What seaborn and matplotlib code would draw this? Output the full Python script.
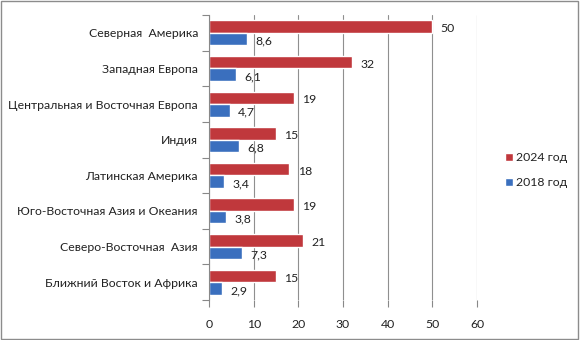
import matplotlib
matplotlib.use("Agg")
import matplotlib.pyplot as plt
from matplotlib.patches import Rectangle
from matplotlib.ticker import FixedLocator
import seaborn as sns
import pandas as pd
import numpy as np

regions = [
    "Северная  Америка",
    "Западная Европа",
    "Центральная и Восточная Европа",
    "Индия",
    "Латинская Америка",
    "Юго-Восточная Азия и Океания",
    "Северо-Восточная  Азия",
    "Ближний Восток и Африка",
]
values_2024 = [50, 32, 19, 15, 18, 19, 21, 15]
values_2018 = [8.6, 6.1, 4.7, 6.8, 3.4, 3.8, 7.3, 2.9]
series_names = ["2024 год", "2018 год"]
x_ticks = [0, 10, 20, 30, 40, 50, 60]

df = pd.DataFrame({
    "region": regions * 2,
    "value": values_2024 + values_2018,
    "series": [series_names[0]] * len(regions) + [series_names[1]] * len(regions),
})

sns.set_theme(style="white")
plt.rcParams["font.family"] = ["Lato", "DejaVu Sans"]
FS = 8.8

fig = plt.figure(figsize=(5.8, 3.4), dpi=100)
ax = fig.add_axes([209 / 580, 1 - 300 / 340, (477 - 209) / 580, (300 - 15) / 340])

palette = {series_names[0]: "#C0383C", series_names[1]: "#3A6FBE"}
sns.barplot(data=df, y="region", x="value", hue="series", hue_order=series_names,
            order=regions, orient="h", palette=palette, width=0.7,
            saturation=1, ax=ax, legend=True)

for container in ax.containers:
    for bar in container:
        w = bar.get_width()
        txt = f"{w:g}".replace(".", ",")
        ax.annotate(txt, (w, bar.get_y() + bar.get_height() / 2),
                    xytext=(6, -1.5), textcoords="offset points",
                    ha="left", va="center", fontsize=FS, color="#222222")

ax.set_xlim(0, 60)
ax.set_ylim(len(regions) - 0.5, -0.5)
ax.set_xticks(x_ticks)
ax.set_xticklabels([str(t) for t in x_ticks], fontsize=FS, color="#222222")
ax.set_xlabel("")
ax.set_ylabel("")
ax.tick_params(axis="y", which="major", length=0, labelsize=FS, labelcolor="#222222", pad=8)
ax.yaxis.set_minor_locator(FixedLocator(np.arange(-0.5, len(regions), 1.0)))
ax.tick_params(axis="y", which="minor", length=5, color="#888888", width=0.8, left=True)
ax.tick_params(axis="x", which="major", length=5, color="#888888", width=0.8, bottom=True,
               pad=9)
ax.grid(axis="x", color="#8f8f8f", linewidth=0.8)
ax.set_axisbelow(True)
for side in ["top", "right", "bottom"]:
    ax.spines[side].set_visible(False)
ax.spines["left"].set_color("#888888")
ax.spines["left"].set_linewidth(0.8)

leg = ax.legend(loc="center left", bbox_to_anchor=(1.065, 0.455), frameon=False,
                fontsize=FS, handlelength=0.6, handleheight=0.6, handletextpad=0.3,
                labelspacing=1.15)
for t in leg.get_texts():
    t.set_color("#222222")

fig.patches.append(Rectangle((0.002, 0.003), 0.995, 0.993, transform=fig.transFigure,
                             fill=False, edgecolor="#8c8c8c", linewidth=1.0))

fig.savefig("out.png", dpi=100)
